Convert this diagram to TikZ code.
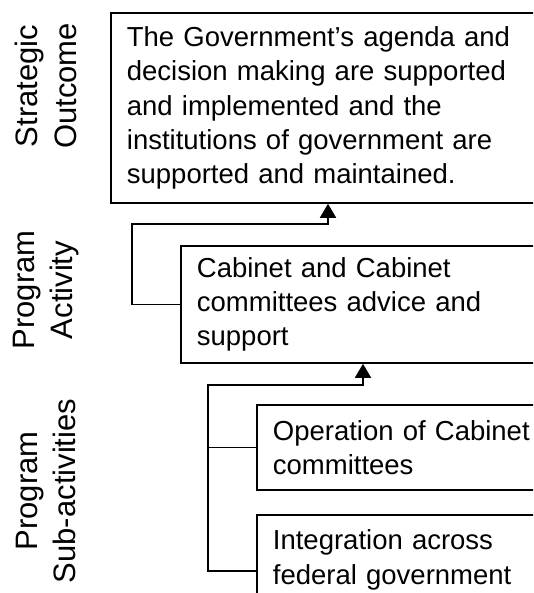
\documentclass[tikz,border=0pt]{standalone}
\usepackage{fontspec}
\setmainfont{Liberation Sans}
\usetikzlibrary{arrows.meta,calc}
\begin{document}
\begin{tikzpicture}[x=1pt,y=-1pt,
 every node/.style={font=\fontsize{27.5}{34.3}\selectfont},
 box/.style={draw, line width=1.8pt, rectangle, anchor=north west, align=left, inner xsep=16pt, inner ysep=0pt},
 lab/.style={rotate=90, align=center, inner sep=0pt, font=\fontsize{31}{38.5}\selectfont},
 conn/.style={line width=1.8pt},
 arr/.style={conn, -{Triangle[length=14pt,width=16pt]}}]
\useasboundingbox (0,0) rectangle (533,593);
\clip (0,0) rectangle (533,593);
\node[box, text width=428pt, minimum height=190pt] (so) at (110,12) {The Government’s agenda and\\decision making are supported\\and implemented and the\\institutions of government are\\supported and maintained.};
\node[box, text width=358pt, minimum height=117pt] (pa) at (180,245) {Cabinet and Cabinet\\committees advice and\\support};
\node[box, text width=282pt, minimum height=85pt] (sa1) at (256,404) {Operation of Cabinet\\committees};
\node[box, text width=282pt, minimum height=90pt] (sa2) at (256,514) {Integration across\\federal government};
\node[lab] (l1) at (46,86) {Strategic\\Outcome};
\node[lab] (l2) at (46,290) {Program\\Activity};
\node[lab] (l3) at (46,491) {Program\\Sub-activities};
\coordinate (a1) at ($(so.south west)+(218,0)$);
\coordinate (a2) at ($(pa.south west)+(183,0)$);
\coordinate (s2) at ($(sa2.north west)+(0,57)$);
\draw[arr] (pa.west) -- ++(-48,0) |- ($(a1)+(0,20)$) -- (a1);
\draw[arr] (s2) -- ++(-48,0) |- ($(a2)+(0,21)$) -- (a2);
\draw[conn] (sa1.west) -- ++(-48,0);
\end{tikzpicture}
\end{document}
